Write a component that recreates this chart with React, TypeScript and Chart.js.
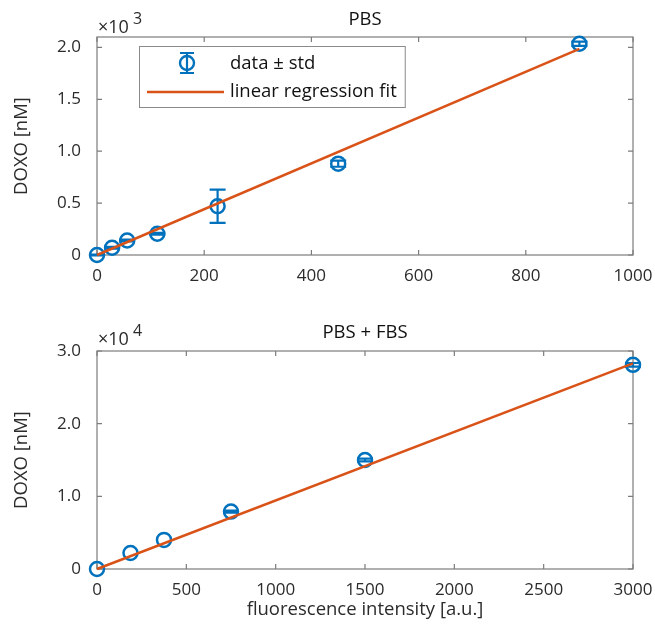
import React, { useEffect, useRef } from "react";
import { Chart, registerables } from "chart.js";
Chart.register(...registerables);

// ---- PBS (top) ----
const pbsX = [0, 28.125, 56.25, 112.5, 225, 450, 900];
const pbsY = [0, 70, 140, 205, 470, 880, 2035];
const pbsErr = [5, 8, 8, 8, 160, 30, 20];
const pbsFitX = [0, 900];
const pbsFitY = [0, 1985];
const pbsXTicks = [0, 200, 400, 600, 800, 1000];
const pbsYTicks = [0, 500, 1000, 1500, 2000];

// ---- PBS + FBS (bottom) ----
const fbsX = [0, 187.5, 375, 750, 1500, 3000];
const fbsY = [0, 2200, 4000, 7900, 15000, 28100];
const fbsErr: (number | null)[] = [null, null, null, 150, 200, 250];
const fbsFitX = [0, 3000];
const fbsFitY = [0, 28300];
const fbsXTicks = [0, 500, 1000, 1500, 2000, 2500, 3000];
const fbsYTicks = [0, 10000, 20000, 30000];

const FONT = "'Open Sans', 'Noto Sans', sans-serif";
const BLUE = "#0072BD";
const ORANGE = "#D95319";
const TXT = "#2b2b2b";
const AXC = "#7c7c7c";
const TICK_SIZE = 17;
const LABEL_SIZE = 18.5;

type Cfg = {
  title: string;
  titleY: number;
  exp: string;
  expY: number;
  legend: boolean;
  errs: (number | null)[];
};

function makePlugin(cfg: Cfg) {
  return {
    id: "decor",
    beforeDatasetsDraw(chart: any) {
      const { ctx, chartArea: a, scales } = chart;
      ctx.save();
      ctx.strokeStyle = AXC;
      ctx.lineWidth = 1.2;
      ctx.beginPath();
      scales.x.ticks.forEach((t: any) => {
        const px = scales.x.getPixelForValue(t.value);
        ctx.moveTo(px, a.bottom);
        ctx.lineTo(px, a.bottom - 5);
        ctx.moveTo(px, a.top);
        ctx.lineTo(px, a.top + 5);
      });
      scales.y.ticks.forEach((t: any) => {
        const py = scales.y.getPixelForValue(t.value);
        ctx.moveTo(a.left, py);
        ctx.lineTo(a.left + 5, py);
        ctx.moveTo(a.right, py);
        ctx.lineTo(a.right - 5, py);
      });
      ctx.stroke();
      ctx.strokeRect(a.left, a.top, a.right - a.left, a.bottom - a.top);
      ctx.restore();
    },
    afterDatasetDraw(chart: any, args: any) {
      if (args.index !== 1) return;
      const { ctx, scales } = chart;
      const ds = chart.data.datasets[1].data as { x: number; y: number }[];
      ctx.save();
      ctx.strokeStyle = BLUE;
      ctx.lineWidth = 2.2;
      ds.forEach((p, i) => {
        const e = cfg.errs[i];
        if (e == null) return;
        const px = scales.x.getPixelForValue(p.x);
        const y1 = scales.y.getPixelForValue(p.y - e);
        const y2 = scales.y.getPixelForValue(p.y + e);
        ctx.beginPath();
        ctx.moveTo(px, y1);
        ctx.lineTo(px, y2);
        ctx.moveTo(px - 8, y1);
        ctx.lineTo(px + 8, y1);
        ctx.moveTo(px - 8, y2);
        ctx.lineTo(px + 8, y2);
        ctx.stroke();
      });
      ctx.restore();
    },
    afterDraw(chart: any) {
      const { ctx, chartArea: a } = chart;
      ctx.save();
      // title
      ctx.fillStyle = "#111";
      ctx.font = `${LABEL_SIZE}px ${FONT}`;
      ctx.textAlign = "center";
      ctx.textBaseline = "middle";
      ctx.fillText(cfg.title, (a.left + a.right) / 2, cfg.titleY);
      // exponent
      ctx.fillStyle = TXT;
      ctx.textAlign = "left";
      ctx.font = `18px ${FONT}`;
      ctx.fillText("\u00d710", a.left + 1, cfg.expY);
      const w = ctx.measureText("\u00d710").width;
      ctx.font = `16px ${FONT}`;
      ctx.fillText(cfg.exp, a.left + 1 + w + 4, cfg.expY - 9);
      // legend
      if (cfg.legend) {
        ctx.font = `${LABEL_SIZE}px ${FONT}`;
        const tx = 230;
        const tw = Math.max(
          ctx.measureText("data \u00b1 std").width,
          ctx.measureText("linear regression fit").width
        );
        const bx = 139, by = 46, bh = 61;
        const bw = tx + tw + 8 - bx;
        ctx.fillStyle = "#fff";
        ctx.fillRect(bx, by, bw, bh);
        ctx.strokeStyle = "#8a8a8a";
        ctx.lineWidth = 1;
        ctx.strokeRect(bx + 0.5, by + 0.5, bw, bh);
        // error marker
        const mx = 187, my = 63;
        ctx.strokeStyle = BLUE;
        ctx.lineWidth = 2.4;
        ctx.beginPath();
        ctx.arc(mx, my, 7, 0, Math.PI * 2);
        ctx.stroke();
        ctx.lineWidth = 2.2;
        ctx.beginPath();
        ctx.moveTo(mx, my - 10);
        ctx.lineTo(mx, my + 10);
        ctx.moveTo(mx - 7, my - 10);
        ctx.lineTo(mx + 7, my - 10);
        ctx.moveTo(mx - 7, my + 10);
        ctx.lineTo(mx + 7, my + 10);
        ctx.stroke();
        // line sample
        ctx.strokeStyle = ORANGE;
        ctx.lineWidth = 2.5;
        ctx.beginPath();
        ctx.moveTo(147, 92);
        ctx.lineTo(224, 92);
        ctx.stroke();
        ctx.fillStyle = "#111";
        ctx.textAlign = "left";
        ctx.fillText("data \u00b1 std", tx, 64);
        ctx.fillText("linear regression fit", tx, 92);
      }
      ctx.restore();
    },
  };
}

function buildConfig(opts: {
  xs: number[]; ys: number[]; fitX: number[]; fitY: number[];
  xTicks: number[]; yTicks: number[]; xMax: number; yMax: number; div: number;
  padTop: number; xHeight: number; xTitle: string | null; cfg: Cfg;
}): any {
  const pts = opts.xs.map((x, i) => ({ x, y: opts.ys[i] }));
  const fit = opts.fitX.map((x, i) => ({ x, y: opts.fitY[i] }));
  const tickFont = { family: FONT, size: TICK_SIZE };
  return {
    type: "scatter",
    data: {
      datasets: [
        {
          label: "linear regression fit",
          data: fit,
          showLine: true,
          borderColor: ORANGE,
          borderWidth: 2.5,
          pointRadius: 0,
          clip: false,
        },
        {
          label: "data \u00b1 std",
          data: pts,
          pointStyle: "circle",
          pointRadius: 7,
          borderColor: BLUE,
          backgroundColor: "rgba(0,0,0,0)",
          borderWidth: 2.5,
          clip: false,
        },
      ],
    },
    options: {
      responsive: false,
      animation: false,
      events: [],
      layout: { padding: { top: opts.padTop, right: 22, left: 0, bottom: 0 } },
      plugins: { legend: { display: false }, tooltip: { enabled: false } },
      scales: {
        x: {
          type: "linear",
          min: 0,
          max: opts.xMax,
          grid: { display: false, drawTicks: false },
          border: { display: false },
          afterBuildTicks: (s: any) => { s.ticks = opts.xTicks.map((v) => ({ value: v })); },
          afterFit: (s: any) => {
            s.height = opts.xHeight;
            s.paddingLeft = 0;
            s.paddingRight = 0;
          },
          ticks: {
            font: tickFont,
            color: TXT,
            padding: 11,
            maxRotation: 0,
            autoSkip: false,
            callback: (v: any) => String(v),
          },
          title: opts.xTitle
            ? {
                display: true,
                text: opts.xTitle,
                font: { family: FONT, size: LABEL_SIZE },
                color: TXT,
                padding: { top: 0, bottom: 18 },
              }
            : { display: false },
        },
        y: {
          type: "linear",
          min: 0,
          max: opts.yMax,
          grid: { display: false, drawTicks: false },
          border: { display: false },
          afterBuildTicks: (s: any) => { s.ticks = opts.yTicks.map((v) => ({ value: v })); },
          afterFit: (s: any) => {
            s.width = 97;
            s.paddingTop = 0;
            s.paddingBottom = 0;
          },
          ticks: {
            font: tickFont,
            color: TXT,
            padding: 16,
            autoSkip: false,
            callback: (v: any) => (v === 0 ? "0" : (v / opts.div).toFixed(1)),
          },
          title: {
            display: true,
            text: "DOXO [nM]",
            font: { family: FONT, size: LABEL_SIZE },
            color: TXT,
            padding: { top: 11, bottom: 0 },
          },
        },
      },
    },
    plugins: [makePlugin(opts.cfg)],
  };
}

function ChartCanvas(props: { config: () => any; top: number; height: number }) {
  const ref = useRef<HTMLCanvasElement | null>(null);
  useEffect(() => {
    if (!ref.current) return;
    const c = new Chart(ref.current, props.config());
    return () => c.destroy();
  }, []);
  return (
    <canvas
      ref={ref}
      width={655}
      height={props.height}
      style={{ position: "absolute", left: 0, top: props.top, width: 655, height: props.height }}
    />
  );
}

export default function App() {
  return (
    <div style={{ position: "absolute", left: 0, top: 0, width: 655, height: 639, background: "#fff" }}>
      <ChartCanvas
        top={0}
        height={300}
        config={() =>
          buildConfig({
            xs: pbsX, ys: pbsY, fitX: pbsFitX, fitY: pbsFitY,
            xTicks: pbsXTicks, yTicks: pbsYTicks, xMax: 1000, yMax: 2100, div: 1000,
            padTop: 37, xHeight: 45, xTitle: null,
            cfg: { title: "PBS", titleY: 20, exp: "3", expY: 28, legend: true, errs: pbsErr },
          })
        }
      />
      <ChartCanvas
        top={300}
        height={339}
        config={() =>
          buildConfig({
            xs: fbsX, ys: fbsY, fitX: fbsFitX, fitY: fbsFitY,
            xTicks: fbsXTicks, yTicks: fbsYTicks, xMax: 3000, yMax: 30000, div: 10000,
            padTop: 51, xHeight: 70, xTitle: "fluorescence intensity [a.u.]",
            cfg: { title: "PBS + FBS", titleY: 33, exp: "4", expY: 40, legend: false, errs: fbsErr },
          })
        }
      />
    </div>
  );
}
